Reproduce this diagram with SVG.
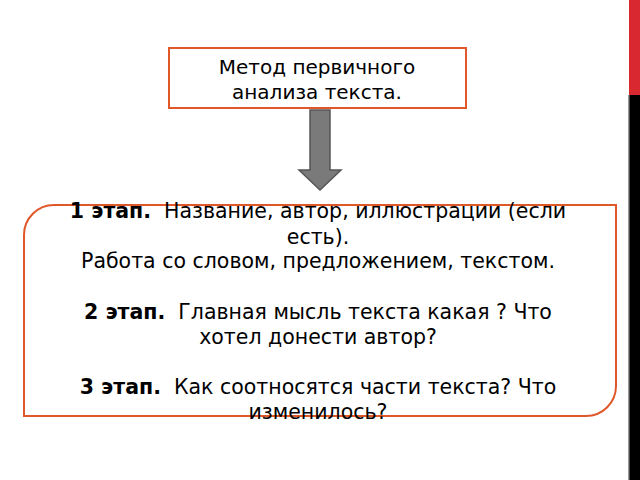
<svg xmlns="http://www.w3.org/2000/svg" width="640" height="480" viewBox="0 0 640 480">
<style>
text{font-family:"DejaVu Sans",sans-serif;font-size:20.5px;fill:#000;text-anchor:middle;white-space:pre}
.t{font-size:20px}
.b{font-weight:bold}
.box{fill:#fff;stroke:#e0582a;stroke-width:2}
</style>
<rect width="640" height="480" fill="#fff"/>
<rect x="629" y="0" width="11" height="480" fill="#000"/>
<rect x="629" y="0" width="11" height="95" fill="#d9282f"/>
<rect x="628" y="95" width="1.5" height="385" fill="#999"/>
<g id="n1">
<rect class="box" x="169" y="48" width="297" height="60"/>
<text class="t" x="317" y="74">Метод первичного</text>
<text class="t" x="317" y="99">анализа текста.</text>
</g>
<g id="connectors">
<path d="M310 110H330V170H341L320 190L299 170H310Z" fill="#7a7a7a" stroke="#555" stroke-width="1.5"/>
</g>
<g id="n2">
<path class="box" d="M54 205H616V386A30 30 0 0 1 586 416H24V235A30 30 0 0 1 54 205Z"/>
<text x="318" y="218" xml:space="preserve"><tspan class="b">1 этап.</tspan>  Название, автор, иллюстрации (если</text>
<text x="318" y="244">есть).</text>
<text x="318" y="268">Работа со словом, предложением, текстом.</text>
<text x="318" y="319" xml:space="preserve"><tspan class="b">2 этап.</tspan>  Главная мысль текста какая ? Что</text>
<text x="318" y="344">хотел донести автор?</text>
<text x="318" y="394" xml:space="preserve"><tspan class="b">3 этап.</tspan>  Как соотносятся части текста? Что</text>
<text x="318" y="419">изменилось?</text>
</g>
</svg>
